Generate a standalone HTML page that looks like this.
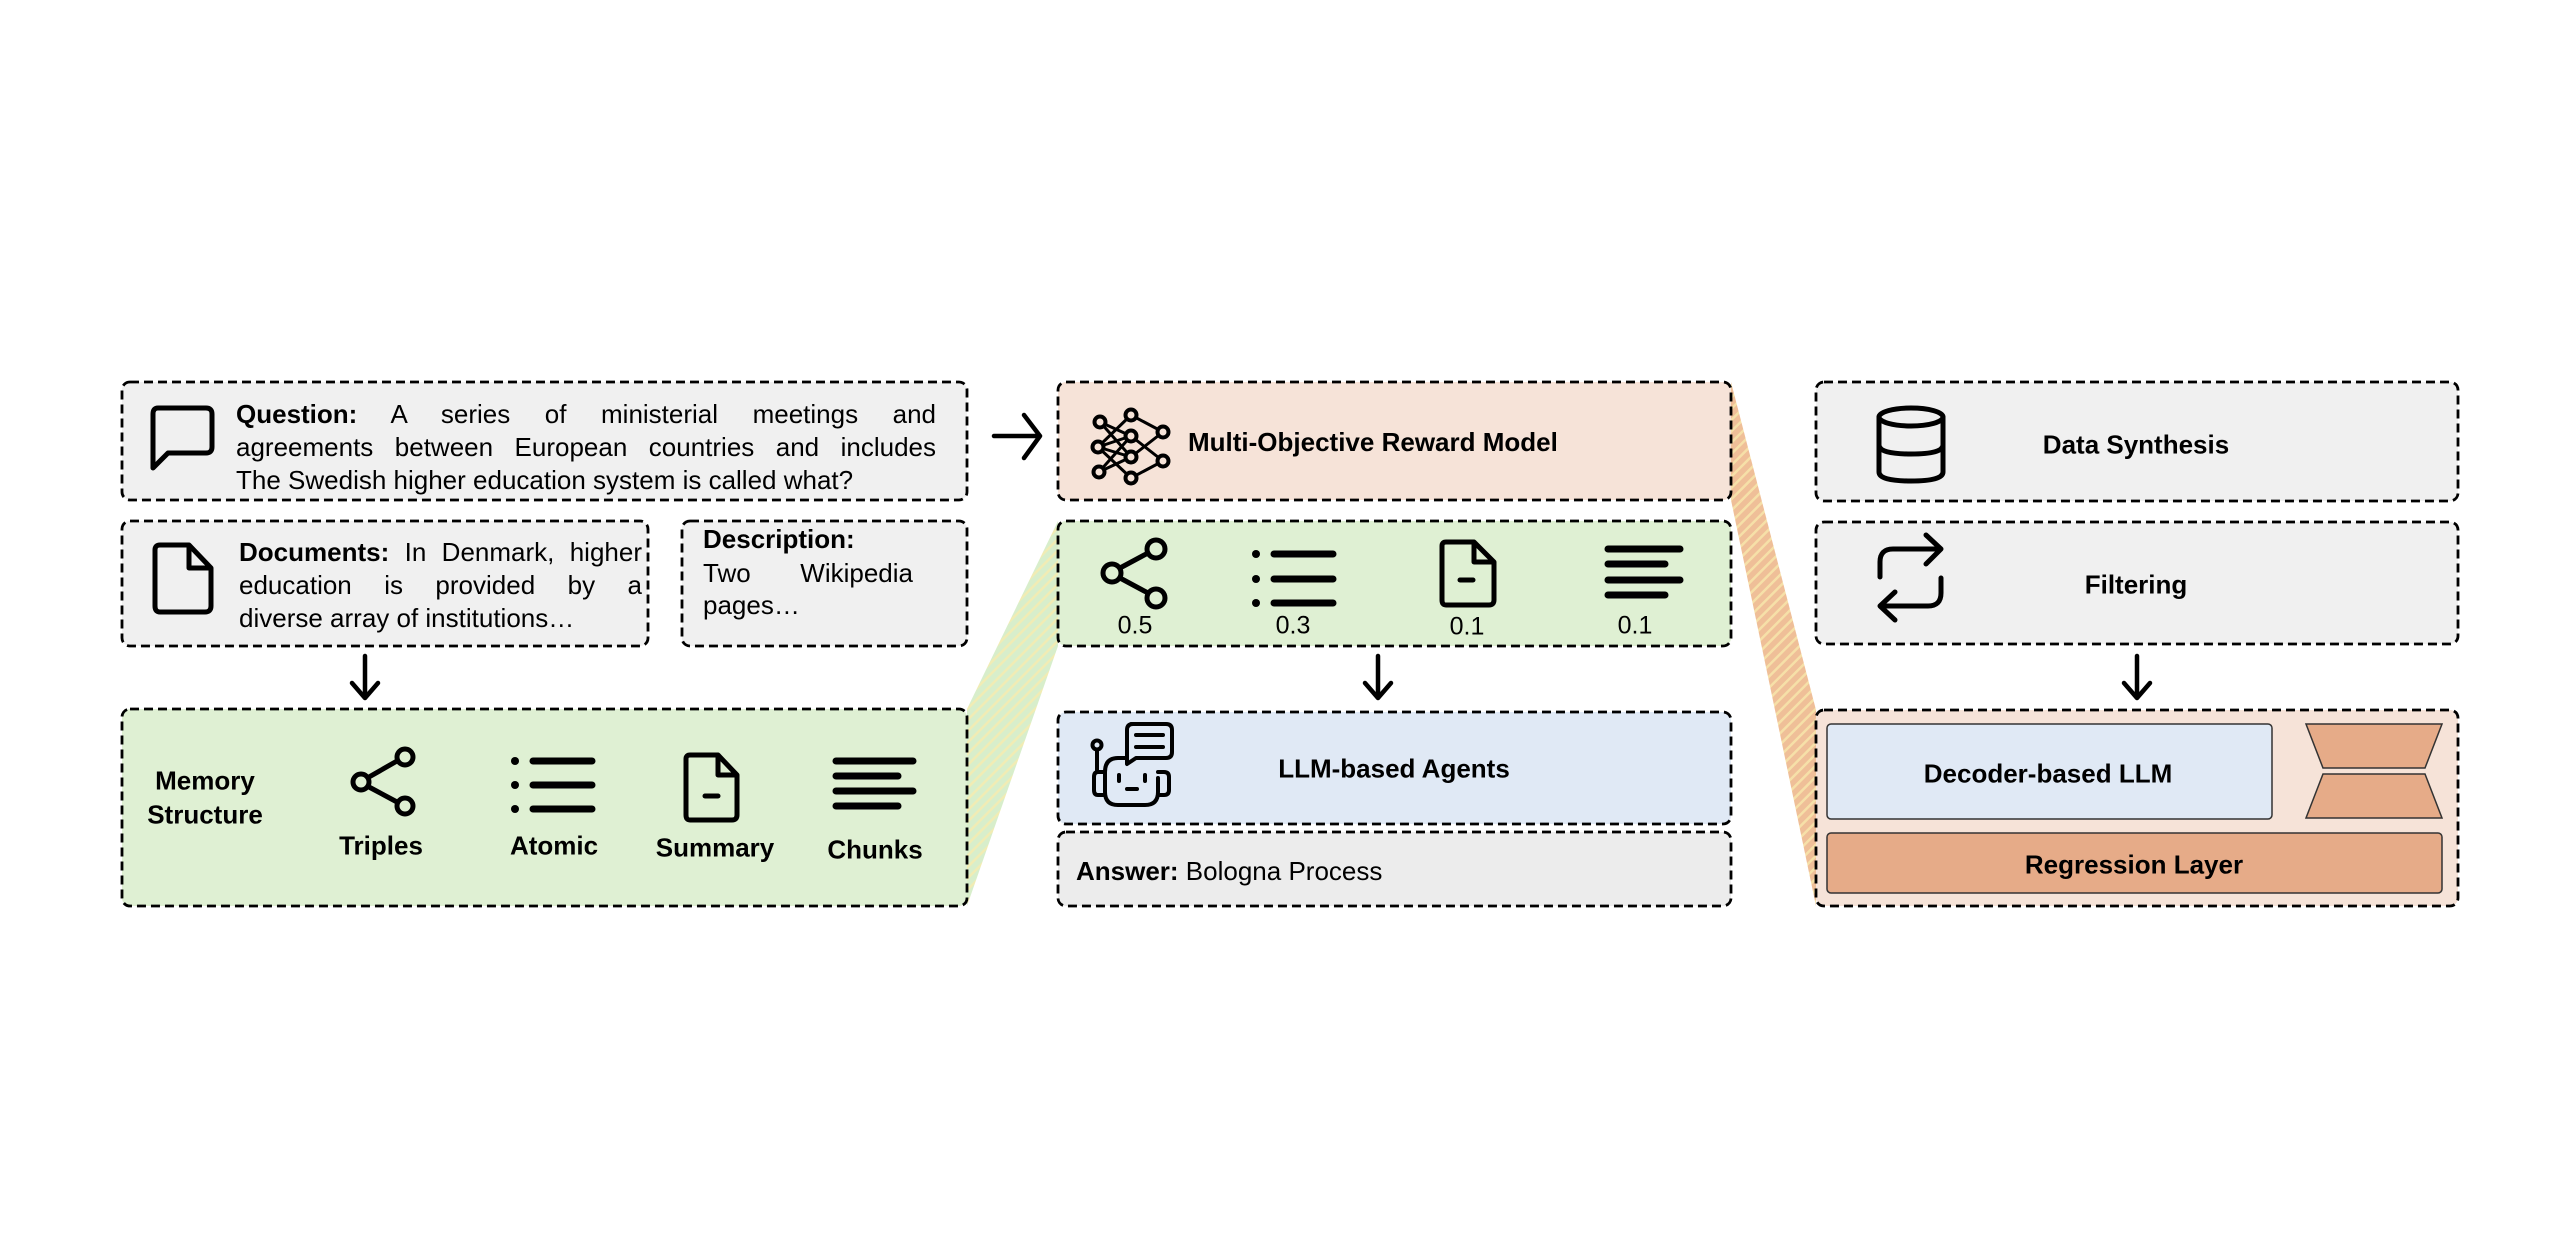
<!DOCTYPE html>
<html><head><meta charset="utf-8"><style>
html,body{margin:0;padding:0;background:#fff;}
body{width:2576px;height:1256px;position:relative;overflow:hidden;font-family:"Liberation Sans",Arial,sans-serif;color:#000;}
svg{position:absolute;left:0;top:0;}
.t{position:absolute;font-size:26px;line-height:33px;white-space:nowrap;}
.j{position:absolute;font-size:26px;line-height:33px;text-align:justify;text-align-last:justify;white-space:normal;}
.c{position:absolute;transform:translate(-50%,-50%);font-weight:bold;font-size:26px;white-space:nowrap;}
.n{position:absolute;transform:translate(-50%,-50%);font-size:25px;white-space:nowrap;}
</style></head><body>
<svg width="2576" height="1256" viewBox="0 0 2576 1256">
<defs>
<pattern id="hg" width="8" height="8" patternUnits="userSpaceOnUse" patternTransform="rotate(45)">
<rect width="8" height="8" fill="#d8eecb"/><rect width="2.5" height="8" fill="#f1ecb4"/></pattern>
<pattern id="ho" width="8" height="8" patternUnits="userSpaceOnUse" patternTransform="rotate(45)">
<rect width="8" height="8" fill="#efbf98"/><rect width="2.5" height="8" fill="#f6e0a8"/></pattern>
</defs>
<polygon points="967,709 1058,521 1058,646 967,906" fill="url(#hg)"/>
<polygon points="1731,382 1816,710 1816,906 1731,500" fill="url(#ho)"/>
<g stroke="#000" stroke-width="2.8" stroke-dasharray="9,5">
<rect x="122" y="382" width="845" height="118" rx="8" fill="#f0f0f0"/>
<rect x="122" y="521" width="526" height="125" rx="8" fill="#f0f0f0"/>
<rect x="682" y="521" width="285" height="125" rx="8" fill="#f0f0f0"/>
<rect x="122" y="709" width="845" height="197" rx="8" fill="#dff0d3"/>
<rect x="1058" y="382" width="673" height="118" rx="8" fill="#f6e3d8"/>
<rect x="1058" y="521" width="673" height="125" rx="8" fill="#dff0d3"/>
<rect x="1058" y="712" width="673" height="112" rx="8" fill="#e0e9f5"/>
<rect x="1058" y="832" width="673" height="74" rx="8" fill="#ececec"/>
<rect x="1816" y="382" width="642" height="119" rx="8" fill="#f0f0f0"/>
<rect x="1816" y="522" width="642" height="122" rx="8" fill="#f0f0f0"/>
<rect x="1816" y="710" width="642" height="196" rx="8" fill="#f6e3d8"/>
</g>
<rect x="1827" y="724" width="445" height="95" rx="4" fill="#e0e9f5" stroke="#333" stroke-width="1.5"/>
<rect x="1827" y="833" width="615" height="60" rx="4" fill="#e6ab88" stroke="#333" stroke-width="1.5"/>
<polygon points="2306,724 2442,724 2425,768 2323,768" fill="#e6ab88" stroke="#333" stroke-width="1.5"/>
<polygon points="2323,774 2425,774 2442,818 2306,818" fill="#e6ab88" stroke="#333" stroke-width="1.5"/>
<!-- arrows -->
<g stroke="#000" stroke-width="4.5" fill="none" stroke-linecap="round" stroke-linejoin="round">
<path d="M994,436 H1039 M1024,415 L1040,436 L1024,458"/>
<path d="M365,656 V698 M352,683 L365,698 L378,683"/>
<path d="M1378,656 V698 M1365,683 L1378,698 L1391,683"/>
<path d="M2137,656 V698 M2124,683 L2137,698 L2150,683"/>
</g>
<g fill="#000">
<circle cx="515" cy="761" r="4"/><circle cx="515" cy="785" r="4"/><circle cx="515" cy="809" r="4"/>
<circle cx="1256" cy="554" r="4"/><circle cx="1256" cy="579" r="4"/><circle cx="1256" cy="603" r="4"/>
</g>
<g stroke="#000" stroke-width="5" fill="none" stroke-linecap="round" stroke-linejoin="round">
<!-- chat bubble -->
<path d="M158,408 H206 Q212,408 212,414 V447 Q212,453 206,453 H168 L153,468 V414 Q153,408 158,408 Z"/>
<!-- doc icon -->
<path d="M160,545 H189 L211,568 V606 Q211,612 205,612 H160 Q155,612 155,606 V550 Q155,545 160,545 Z M189,545 V568 H211"/>
<!-- memory share -->
<circle cx="405" cy="757" r="8"/><circle cx="361" cy="782" r="8"/><circle cx="405" cy="806" r="8"/>
<path d="M369,777 L397,761 M369,787 L397,802"/>
<!-- memory list -->
<path d="M533,761 H592 M533,785 H592 M533,809 H592" stroke-width="7"/>
<!-- memory doc -->
<path d="M690,755 H718 L737,775 V815 Q737,820 732,820 H690 Q686,820 686,815 V759 Q686,755 690,755 Z M718,755 V775 H737"/>
<path d="M705,796 H718"/>
<!-- memory chunks -->
<path d="M836,761 H913 M836,776 H898 M836,791 H913 M836,806 H898" stroke-width="7"/>
<!-- weights share -->
<circle cx="1156" cy="549" r="9"/><circle cx="1112" cy="573" r="9"/><circle cx="1156" cy="598" r="9"/>
<path d="M1120,568 L1148,553 M1120,578 L1148,593"/>
<path d="M1274,554 H1333 M1274,579 H1333 M1274,603 H1333" stroke-width="7"/>
<!-- weights doc -->
<path d="M1446,542 H1474 L1494,562 V600 Q1494,605 1489,605 H1446 Q1442,605 1442,600 V546 Q1442,542 1446,542 Z M1474,542 V562 H1494"/>
<path d="M1460,580 H1473"/>
<path d="M1608,549 H1680 M1608,564 H1665 M1608,580 H1680 M1608,595 H1665" stroke-width="7"/>
<!-- network -->
<g stroke-width="3">
<path d="M1100,422 L1131,436 M1100,422 L1131,457 M1098,447 L1131,415 M1098,447 L1131,436 M1098,447 L1131,457 M1098,447 L1131,478 M1099,472 L1131,457 M1099,472 L1131,436 M1131,415 L1163,432 M1131,436 L1163,461 M1131,457 L1163,432 M1131,478 L1163,461"/>
</g>
<g stroke-width="4" fill="#f6e3d8">
<circle cx="1100" cy="422" r="5.5"/><circle cx="1098" cy="447" r="5.5"/><circle cx="1099" cy="472" r="5.5"/>
<circle cx="1131" cy="415" r="5.5"/><circle cx="1131" cy="436" r="5.5"/><circle cx="1131" cy="457" r="5.5"/><circle cx="1131" cy="478" r="5.5"/>
<circle cx="1163" cy="432" r="5.5"/><circle cx="1163" cy="461" r="5.5"/>
</g>
<!-- robot -->
<g stroke-width="4">
<circle cx="1097" cy="745" r="4.5"/>
<path d="M1097,750 V770"/>
<path d="M1125,758 H1118 Q1105,758 1105,772 V792 Q1105,805 1118,805 H1145 Q1158,805 1158,792 V778"/>
<path d="M1105,772 H1098 Q1094,772 1094,777 V790 Q1094,795 1098,795 H1105 M1158,772 H1164 Q1169,772 1169,777 V790 Q1169,795 1164,795 H1158"/>
<path d="M1131,724 H1166 Q1172,724 1172,730 V752 Q1172,758 1166,758 H1136 L1127,764 V730 Q1127,724 1133,724"/>
<path d="M1136,735 H1163 M1136,747 H1163"/>
<path d="M1119,775 V781 M1145,775 V781 M1127,789 H1137"/>
</g>
<!-- database -->
<ellipse cx="1911" cy="417" rx="32" ry="9"/>
<path d="M1879,417 V472 Q1879,481 1911,481 Q1943,481 1943,472 V417 M1879,445 Q1879,454 1911,454 Q1943,454 1943,445"/>
<!-- repeat -->
<path d="M1880,577 V562 Q1880,549 1893,549 H1940 M1926,535 L1941,549 L1926,564"/>
<path d="M1941,578 V593 Q1941,606 1928,606 H1881 M1895,592 L1880,606 L1895,620"/>
</g>
</svg>

<div class="j" style="left:236px;top:398px;width:700px;"><b>Question:</b> A series of ministerial meetings and</div>
<div class="j" style="left:236px;top:431px;width:700px;">agreements between European countries and includes</div>
<div class="t" style="left:236px;top:464px;">The Swedish higher education system is called what?</div>

<div class="j" style="left:239px;top:536px;width:403px;"><b>Documents:</b> In Denmark, higher</div>
<div class="j" style="left:239px;top:569px;width:403px;">education is provided by a</div>
<div class="t" style="left:239px;top:602px;">diverse array of institutions…</div>

<div class="t" style="left:703px;top:523px;font-weight:bold;">Description:</div>
<div class="j" style="left:703px;top:557px;width:210px;">Two Wikipedia</div>
<div class="t" style="left:703px;top:589px;">pages…</div>

<div class="c" style="left:205px;top:781px;">Memory</div>
<div class="c" style="left:205px;top:815px;">Structure</div>
<div class="c" style="left:381px;top:846px;">Triples</div>
<div class="c" style="left:554px;top:846px;">Atomic</div>
<div class="c" style="left:715px;top:848px;">Summary</div>
<div class="c" style="left:875px;top:850px;">Chunks</div>

<div class="t" style="left:1188px;top:426px;font-weight:bold;">Multi-Objective Reward Model</div>
<div class="n" style="left:1135px;top:626px;">0.5</div>
<div class="n" style="left:1293px;top:626px;">0.3</div>
<div class="n" style="left:1467px;top:627px;">0.1</div>
<div class="n" style="left:1635px;top:626px;">0.1</div>
<div class="c" style="left:1394px;top:769px;">LLM-based Agents</div>
<div class="t" style="left:1076px;top:855px;"><b>Answer:</b> Bologna Process</div>

<div class="c" style="left:2136px;top:445px;">Data Synthesis</div>
<div class="c" style="left:2136px;top:585px;">Filtering</div>
<div class="c" style="left:2048px;top:774px;">Decoder-based LLM</div>
<div class="c" style="left:2134px;top:865px;">Regression Layer</div>
</body></html>
